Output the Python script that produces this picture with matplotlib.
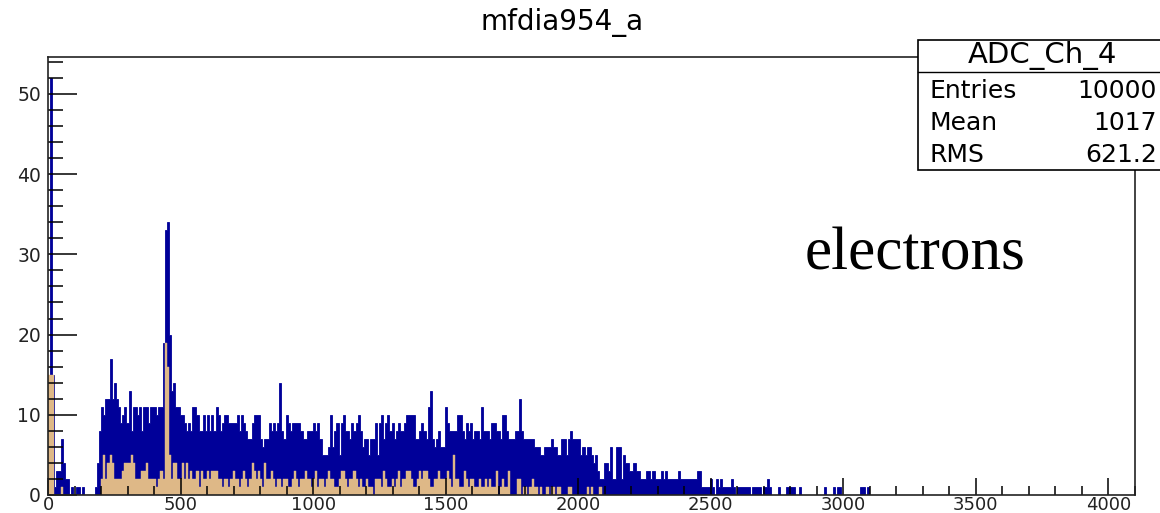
import matplotlib
matplotlib.use("Agg")
import matplotlib.pyplot as plt
import numpy as np
from matplotlib.patches import Rectangle
from matplotlib.ticker import MultipleLocator

# ---------------- data (ADC channel histogram, bin width 8) ----------------
bin_width = 8

blue_counts = [
    # 0-199
    15, 52, 15, 1, 3, 3, 7, 4, 2, 2, 0, 1, 0, 1, 1, 0, 1, 0, 0, 0, 0, 0, 1, 4, 8,
    # 200-399
    11, 10, 12, 12, 17, 12, 14, 12, 11, 9, 10, 11, 9, 13, 8, 11, 11, 10, 11, 8, 11, 11, 9, 11, 11,
    # 400-463
    11, 10, 11, 11, 19, 33, 34, 20,
    # 464-671
    13, 14, 11, 11, 10, 10, 9, 8, 9, 8, 11, 11, 10, 8, 8, 10, 8, 10, 8, 10, 8, 11, 10, 8, 9, 10,
    # 672-871
    10, 9, 9, 9, 9, 10, 8, 10, 9, 8, 7, 7, 9, 10, 10, 10, 7, 6, 7, 7, 9, 8, 9, 8, 9,
    # 872-879
    14,
    # 880-1183
    8, 7, 10, 9, 8, 9, 9, 9, 9, 8, 7, 7, 8, 8, 8, 9, 8, 9, 7, 5, 5, 5, 6, 10, 6, 8, 9, 5, 9, 10,
    8, 8, 7, 9, 8, 9, 10, 8,
    # 1184-1439
    6, 7, 7, 5, 7, 7, 9, 5, 9, 10, 7, 9, 10, 8, 9, 7, 8, 9, 8, 8, 9, 10, 10, 10, 10, 7, 7, 8, 9, 8,
    7, 11,
    # 1440-1447
    13,
    # 1448-1679
    7, 6, 7, 8, 6, 6, 11, 9, 8, 8, 8, 8, 10, 10, 8, 7, 9, 8, 9, 7, 8, 8, 7, 11, 8, 8, 8, 7, 9,
    # 1680-1775
    9, 8, 8, 7, 10, 10, 8, 7, 7, 7, 8, 8,
    # 1776-1783
    12,
    # 1784-2079
    8, 7, 7, 7, 7, 7, 6, 6, 6, 5, 5, 6, 6, 6, 7, 6, 6, 5, 5, 7, 7, 5, 7, 8, 7, 7, 7, 7, 5, 6,
    5, 6, 6, 5, 4, 5, 3,
    # 2080-2463
    2, 2, 4, 4, 3, 6, 2, 2, 6, 6, 2, 5, 4, 4, 3, 3, 4, 3, 3, 2, 2, 2, 3, 3, 2, 3, 2, 2, 2, 3,
    2, 3, 2, 2, 2, 2, 2, 3, 2, 2, 2, 2, 2, 2, 2, 2, 3, 3,
    # 2464-2623
    1, 1, 1, 1, 2, 1, 0, 2, 1, 2, 1, 1, 1, 1, 2, 1, 0, 1, 1, 1,
    # 2624-3159
    1, 1, 1, 0, 1, 1, 1, 1, 0, 1, 1, 2, 1, 0, 0, 0, 1, 0, 0, 0, 1, 1, 1, 1, 0, 0, 1, 0, 0, 0,
    0, 0, 0, 0, 0, 0, 0, 0, 1, 0, 0, 0, 1, 0, 1, 1, 0, 0, 0, 0, 0, 0, 0, 0, 0, 1, 1, 0, 1, 0,
    0, 0, 0, 0, 0, 0, 0,
]

tan_counts = [
    # 0-199
    15, 15, 15, 0, 0, 0, 1, 0, 0, 0, 0, 0, 0, 0, 0, 0, 0, 0, 0, 0, 0, 0, 0, 0, 0,
    # 200-431
    2, 5, 2, 4, 5, 4, 2, 2, 2, 2, 3, 4, 4, 4, 5, 4, 2, 2, 2, 3, 3, 4, 2, 2, 2, 2, 1, 2, 3,
    # 432-463
    2, 19, 16, 5,
    # 464-671
    2, 4, 4, 2, 2, 4, 2, 4, 2, 3, 2, 2, 3, 1, 3, 2, 2, 3, 2, 3, 3, 3, 2, 2, 1, 2,
    # 672-1183
    2, 1, 2, 3, 2, 2, 1, 2, 3, 2, 1, 2, 4, 3, 2, 3, 2, 1, 4, 2, 2, 3, 2, 1, 2, 2, 1, 2, 2, 1,
    1, 2, 3, 2, 1, 2, 2, 3, 2, 2, 1, 2, 3, 1, 2, 2, 1, 2, 3, 2, 2, 1, 1, 2, 3, 3, 2, 1, 2, 2,
    3, 2, 1, 2,
    # 1184-1679
    1, 1, 2, 1, 1, 0, 2, 2, 2, 1, 3, 2, 1, 1, 2, 1, 2, 3, 1, 2, 2, 3, 3, 2, 1, 1, 2, 3, 2, 3,
    3, 2, 1, 1, 2, 2, 3, 2, 2, 2, 3, 2, 1, 5, 2, 2, 1, 1, 3, 2, 1, 2, 2, 1, 1, 2, 1, 1, 2, 1,
    2, 1,
    # 1680-2087
    1, 3, 0, 1, 2, 1, 1, 3, 0, 0, 0, 2, 2, 0, 1, 1, 0, 1, 2, 1, 1, 0, 1, 0, 0, 1, 0, 1, 1, 0,
    1, 1, 0, 0, 0, 1, 1, 0, 0, 0, 0, 0, 0, 0, 1, 0, 1, 0, 0, 0, 1,
]

x_ticks = [0, 500, 1000, 1500, 2000, 2500, 3000, 3500, 4000]
y_ticks = [0, 10, 20, 30, 40, 50]
title_text = "mfdia954_a"
stats_name = "ADC_Ch_4"
stats_rows = [("Entries", "10000"), ("Mean", "1017"), ("RMS", "621.2")]
annotation = "electrons"

# ---------------- figure ----------------
W, H = 1160, 513
fig = plt.figure(figsize=(W / 100, H / 100), dpi=100)
fig.patch.set_facecolor("white")

x0, x1, ytop, ybot = 48, 1135, 57, 495
ax = fig.add_axes([x0 / W, (H - ybot) / H, (x1 - x0) / W, (ybot - ytop) / H])

blue_edges = np.arange(len(blue_counts) + 1) * bin_width
tan_edges = np.arange(len(tan_counts) + 1) * bin_width
ax.stairs(blue_counts, blue_edges, fill=True, facecolor="#000099",
          edgecolor="#000099", linewidth=0.6, zorder=1)
ax.stairs(tan_counts, tan_edges, fill=True, facecolor="#DEB887",
          edgecolor="#DEB887", linewidth=0.3, zorder=1.1)

ax.set_xlim(0, 4100)
ax.set_ylim(0, 54.6)

ax.set_xticks(x_ticks)
ax.set_yticks(y_ticks)
ax.xaxis.set_minor_locator(MultipleLocator(100))
ax.yaxis.set_minor_locator(MultipleLocator(2))

font = "DejaVu Sans"
ax.xaxis.set_tick_params(which="major", direction="in", length=12, width=1.1,
                         pad=0.5, labelsize=13, color="black")
ax.xaxis.set_tick_params(which="minor", direction="in", length=6.5, width=1.1, color="black")
ax.yaxis.set_tick_params(which="major", direction="in", length=21, width=1.1,
                         pad=5, labelsize=13.5, color="black")
ax.yaxis.set_tick_params(which="minor", direction="in", length=10.5, width=1.1, color="black")
for lab in ax.get_xticklabels() + ax.get_yticklabels():
    lab.set_fontfamily(font)
    lab.set_color("#222222")

for s in ax.spines.values():
    s.set_linewidth(1.2)
    s.set_color("#222222")

# title
fig.text(562 / W, 1 - 23 / H, title_text, ha="center", va="center",
         fontsize=20, family=font, color="black")

# stats box
bx0, by0, bx1, by1 = 918, 40, 1163, 170
fig.add_artist(Rectangle((bx0 / W, 1 - by1 / H), (bx1 - bx0) / W, (by1 - by0) / H,
                         transform=fig.transFigure, facecolor="white",
                         edgecolor="black", linewidth=1.2, zorder=5))
fig.add_artist(plt.Line2D([bx0 / W, bx1 / W], [1 - 72 / H, 1 - 72 / H],
                          transform=fig.transFigure, color="black", lw=1.0, zorder=6))
fig.text(1042 / W, 1 - 56 / H, stats_name, ha="center", va="center",
         fontsize=21, family=font, zorder=7)
row_y = [91, 123, 155]
for (k, v), yy in zip(stats_rows, row_y):
    fig.text(929 / W, 1 - yy / H, k, ha="left", va="center", fontsize=18,
             family=font, zorder=7)
    fig.text(1157 / W, 1 - yy / H, v, ha="right", va="center", fontsize=18,
             family=font, zorder=7)

# annotation
ax.text(805 / W, 1 - 269 / H, annotation, transform=fig.transFigure, ha="left",
        va="baseline", fontsize=44, family="Liberation Serif", color="black")

fig.savefig("out.png", dpi=100, facecolor="white")
